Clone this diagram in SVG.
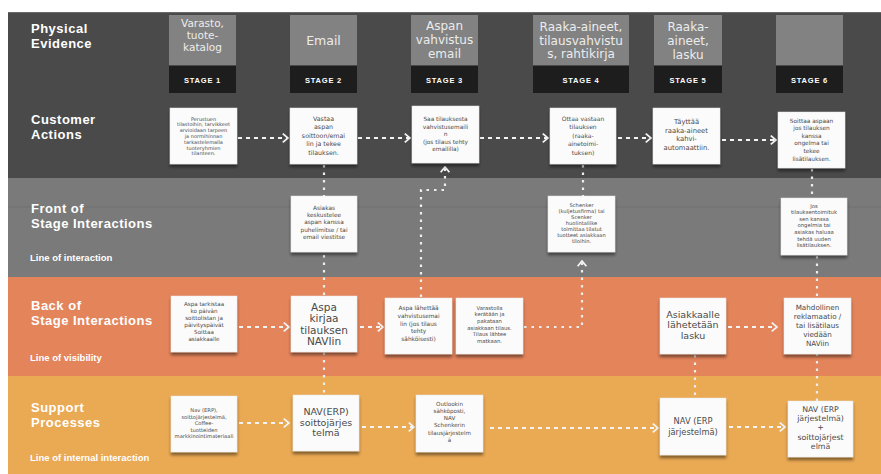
<svg xmlns="http://www.w3.org/2000/svg" width="881" height="474" viewBox="0 0 881 474">
<style>
.lbl{font-family:"Liberation Sans",Arial,sans-serif;font-weight:bold;font-size:13px;letter-spacing:0.5px;fill:#ffffff}
.sub{font-family:"Liberation Sans",Arial,sans-serif;font-weight:bold;font-size:9.5px;fill:#ffffff}
.ev{fill:#828282}
.evt{font-family:"DejaVu Sans",sans-serif;fill:#ececec;text-anchor:middle}
.stg{fill:#1d1d1d}
.stgt{font-family:"Liberation Sans",Arial,sans-serif;font-weight:bold;font-size:7.5px;letter-spacing:0.8px;fill:#ffffff;text-anchor:middle}
.note{fill:#fbfbfb;stroke:#e6e6e6;stroke-width:0.5;filter:url(#sh)}
.nt{font-family:"DejaVu Sans",sans-serif;fill:#4a4a4a;text-anchor:middle}
.dash{fill:none;stroke:#f4f4f4;stroke-width:2;stroke-dasharray:4 4;marker-end:url(#chev)}
.dot{fill:none;stroke:#eeeeee;stroke-width:2.2;stroke-dasharray:2.5 5}
.dotA{fill:none;stroke:#eeeeee;stroke-width:2.2;stroke-dasharray:2.5 5;marker-end:url(#chev)}
</style>
<defs>
<filter id="sh" x="-20%" y="-20%" width="140%" height="150%">
<feDropShadow dx="0" dy="3" stdDeviation="1.6" flood-color="#000" flood-opacity="0.45"/>
</filter>
<marker id="chev" viewBox="0 0 8 12" refX="7" refY="6" markerWidth="7" markerHeight="11" markerUnits="userSpaceOnUse" orient="auto">
<path d="M1,1 L7,6 L1,11" fill="none" stroke="#f4f4f4" stroke-width="2"/>
</marker>
</defs>
<rect x="0" y="0" width="881" height="474" fill="#ffffff"/>
<g id="lanes">
<rect x="8" y="12" width="873" height="166" fill="#4a4a4a"/>
<line x1="8" y1="12.5" x2="881" y2="12.5" stroke="#6a6a6a" stroke-width="1"/>
<rect x="8" y="178" width="873" height="99" fill="#7a7a7a"/>
<line x1="8" y1="207" x2="881" y2="207" stroke="#717171" stroke-width="1"/>
<rect x="8" y="277" width="873" height="99" fill="#e3845b"/>
<rect x="8" y="376" width="873" height="98" fill="#eaa953"/>
<text class="lbl" x="31" y="32.5">Physical</text>
<text class="lbl" x="31" y="47.5">Evidence</text>
<text class="lbl" x="31" y="123.5">Customer</text>
<text class="lbl" x="31" y="138.5">Actions</text>
<text class="lbl" x="31" y="212.5">Front of</text>
<text class="lbl" x="31" y="227.5">Stage Interactions</text>
<text class="sub" x="30" y="261">Line of interaction</text>
<text class="lbl" x="31" y="309.5">Back of</text>
<text class="lbl" x="31" y="324.5">Stage Interactions</text>
<text class="sub" x="30" y="361">Line of visibility</text>
<text class="lbl" x="31" y="411.5">Support</text>
<text class="lbl" x="31" y="426.5">Processes</text>
<text class="sub" x="30" y="461">Line of internal interaction</text>
</g>
<g id="stage1">
<rect class="ev" x="169" y="15" width="67" height="50"/>
<text class="evt" font-size="10.5"><tspan x="202.5" y="27">Varasto,</tspan><tspan x="202.5" y="39">tuote-</tspan><tspan x="202.5" y="51">katalog</tspan></text>
<rect class="stg" x="169" y="66" width="67" height="27"/>
<text class="stgt" x="202.5" y="82.5">STAGE 1</text>
</g>
<g id="stage2">
<rect class="ev" x="290" y="15" width="67" height="50"/>
<text class="evt" font-size="12.5" x="323.5" y="44.5">Email</text>
<rect class="stg" x="290" y="66" width="67" height="27"/>
<text class="stgt" x="323.5" y="82.5">STAGE 2</text>
</g>
<g id="stage3">
<rect class="ev" x="411" y="15" width="67" height="50"/>
<text class="evt" font-size="12"><tspan x="444.5" y="29.5">Aspan</tspan><tspan x="444.5" y="43.5">vahvistus</tspan><tspan x="444.5" y="57.5">email</tspan></text>
<rect class="stg" x="411" y="66" width="67" height="27"/>
<text class="stgt" x="444.5" y="82.5">STAGE 3</text>
</g>
<g id="stage4">
<rect class="ev" x="533" y="15" width="96" height="50"/>
<text class="evt" font-size="12"><tspan x="581" y="30.5">Raaka-aineet,</tspan><tspan x="581" y="45">tilausvahvistu</tspan><tspan x="581" y="57.5">s, rahtikirja</tspan></text>
<rect class="stg" x="533" y="66" width="96" height="27"/>
<text class="stgt" x="581" y="82.5">STAGE 4</text>
</g>
<g id="stage5">
<rect class="ev" x="654" y="15" width="68" height="50"/>
<text class="evt" font-size="12"><tspan x="688" y="30.5">Raaka-</tspan><tspan x="688" y="45">aineet,</tspan><tspan x="688" y="58.5">lasku</tspan></text>
<rect class="stg" x="654" y="66" width="68" height="27"/>
<text class="stgt" x="688" y="82.5">STAGE 5</text>
</g>
<g id="stage6">
<rect class="ev" x="776" y="15" width="67" height="50"/>
<rect class="stg" x="776" y="66" width="67" height="27"/>
<text class="stgt" x="809.5" y="82.5">STAGE 6</text>
</g>
<g id="connectors">
<path class="dash" d="M238,138 H288"/>
<path class="dash" d="M358,138 H410"/>
<path class="dash" d="M480,138 H548"/>
<path class="dash" d="M618,138 H651"/>
<path class="dash" d="M722,140 H776"/>
<path class="dash" d="M239,327 H289"/>
<path class="dash" d="M360,327 H383"/>
<path class="dash" d="M728,327 H777"/>
<path class="dash" d="M239,423 H289"/>
<path class="dash" d="M362,427 H414"/>
<path class="dash" d="M490,428 H658"/>
<path class="dash" d="M729,427 H785"/>
<path class="dot" d="M324,165 V396"/>
<path class="dotA" d="M421,297 V190 H445 V167"/>
<path class="dot" d="M583,165 V196"/>
<path class="dotA" d="M524,327 H582 V261"/>
<path class="dot" d="M812,169 V198"/>
<path class="dot" d="M817,256 V401"/>
<path class="dot" d="M695,355 V398"/>
</g>
<g id="ca1">
<rect class="note" x="170" y="108" width="67" height="56"/>
<text class="nt" font-size="5"><tspan x="203.5" y="120.5">Perustuen</tspan><tspan x="203.5" y="126.3">tilastoihin, tarvikkeet</tspan><tspan x="203.5" y="132.1">arvioidaan tarpeen</tspan><tspan x="203.5" y="137.9">ja normihinnan</tspan><tspan x="203.5" y="143.7">tarkastelemalla</tspan><tspan x="203.5" y="149.5">tuoteryhmien</tspan><tspan x="203.5" y="155.3">tilanteen.</tspan></text>
</g>
<g id="ca2">
<rect class="note" x="290" y="108" width="67" height="56"/>
<text class="nt" font-size="6.3"><tspan x="323.5" y="120.5">Vastaa</tspan><tspan x="323.5" y="129">aspan</tspan><tspan x="323.5" y="137.5">soittoon/emai</tspan><tspan x="323.5" y="146">lin ja tekee</tspan><tspan x="323.5" y="154.5">tilauksen.</tspan></text>
</g>
<g id="ca3">
<rect class="note" x="412" y="106" width="67" height="57"/>
<text class="nt" font-size="5.8"><tspan x="445.5" y="121">Saa tilauksesta</tspan><tspan x="445.5" y="128.5">vahvistusemaili</tspan><tspan x="445.5" y="136">n</tspan><tspan x="445.5" y="143.5">(jos tilaus tehty</tspan><tspan x="445.5" y="151">emaililla)</tspan></text>
</g>
<g id="ca4">
<rect class="note" x="550" y="108" width="66" height="56"/>
<text class="nt" font-size="6"><tspan x="583" y="120.5">Ottaa vastaan</tspan><tspan x="583" y="129">tilauksen</tspan><tspan x="583" y="137.5">(raaka-</tspan><tspan x="583" y="146">ainetoimi-</tspan><tspan x="583" y="154.5">tuksen)</tspan></text>
</g>
<g id="ca5">
<rect class="note" x="653" y="108" width="67" height="56"/>
<text class="nt" font-size="6.8"><tspan x="686.5" y="124">Täyttää</tspan><tspan x="686.5" y="132.7">raaka-aineet</tspan><tspan x="686.5" y="141.4">kahvi-</tspan><tspan x="686.5" y="150.1">automaattiin.</tspan></text>
</g>
<g id="ca6">
<rect class="note" x="778" y="112" width="67" height="56"/>
<text class="nt" font-size="5.8"><tspan x="811.5" y="122.5">Soittaa aspaan</tspan><tspan x="811.5" y="130.1">jos tilauksen</tspan><tspan x="811.5" y="137.7">kanssa</tspan><tspan x="811.5" y="145.3">ongelma tai</tspan><tspan x="811.5" y="152.9">tekee</tspan><tspan x="811.5" y="160.5">lisätilauksen.</tspan></text>
</g>
<g id="fs1">
<rect class="note" x="291" y="196" width="66" height="56"/>
<text class="nt" font-size="5.8"><tspan x="324" y="210">Asiakas</tspan><tspan x="324" y="217.2">keskustelee</tspan><tspan x="324" y="224.4">aspan kanssa</tspan><tspan x="324" y="231.6">puhelimitse / tai</tspan><tspan x="324" y="238.8">email viestitse</tspan></text>
</g>
<g id="fs2">
<rect class="note" x="548" y="196" width="67" height="56"/>
<text class="nt" font-size="5.2"><tspan x="581.5" y="207">Schenker</tspan><tspan x="581.5" y="213">(kuljetusfirma) tai</tspan><tspan x="581.5" y="219">Scenker</tspan><tspan x="581.5" y="225">huolintaliike</tspan><tspan x="581.5" y="231">toimittaa tilatut</tspan><tspan x="581.5" y="237">tuotteet asiakkaan</tspan><tspan x="581.5" y="243">tiloihin.</tspan></text>
</g>
<g id="fs3">
<rect class="note" x="781" y="198" width="66" height="57"/>
<text class="nt" font-size="5.3"><tspan x="814" y="207.5">Jos</tspan><tspan x="814" y="214.1">tilauksentoimituk</tspan><tspan x="814" y="220.7">sen kanssa</tspan><tspan x="814" y="227.3">ongelmia tai</tspan><tspan x="814" y="233.9">asiakas haluaa</tspan><tspan x="814" y="240.5">tehdä uuden</tspan><tspan x="814" y="247.1">lisätilauksen.</tspan></text>
</g>
<g id="bs1">
<rect class="note" x="171" y="296" width="66" height="56"/>
<text class="nt" font-size="5.6"><tspan x="204" y="305.5">Aspa tarkistaa</tspan><tspan x="204" y="312.5">ko päivän</tspan><tspan x="204" y="319.5">soittolistan ja</tspan><tspan x="204" y="326.5">päivityspäivät</tspan><tspan x="204" y="333.5">Soittaa</tspan><tspan x="204" y="340.5">asiakkaalle</tspan></text>
</g>
<g id="bs2">
<rect class="note" x="291" y="296" width="66" height="56"/>
<text class="nt" font-size="10.5"><tspan x="324" y="310.5">Aspa</tspan><tspan x="324" y="322.1">kirjaa</tspan><tspan x="324" y="333.7">tilauksen</tspan><tspan x="324" y="345.3">NAVIin</tspan></text>
</g>
<g id="bs3">
<rect class="note" x="385" y="298" width="67" height="56"/>
<text class="nt" font-size="5.8"><tspan x="418.5" y="310">Aspa lähettää</tspan><tspan x="418.5" y="317.8">vahvistusemai</tspan><tspan x="418.5" y="325.6">lin (jos tilaus</tspan><tspan x="418.5" y="333.4">tehty</tspan><tspan x="418.5" y="341.2">sähköisesti)</tspan></text>
</g>
<g id="bs4">
<rect class="note" x="456" y="298" width="67" height="56"/>
<text class="nt" font-size="5.3"><tspan x="489.5" y="309.5">Varastolla</tspan><tspan x="489.5" y="316.2">kerätään ja</tspan><tspan x="489.5" y="322.9">pakataan</tspan><tspan x="489.5" y="329.6">asiakkaan tilaus.</tspan><tspan x="489.5" y="336.3">Tilaus lähtee</tspan><tspan x="489.5" y="343">matkaan.</tspan></text>
</g>
<g id="bs5">
<rect class="note" x="660" y="298" width="66" height="56"/>
<text class="nt" font-size="9.5"><tspan x="693" y="317.5">Asiakkaalle</tspan><tspan x="693" y="328">lähetetään</tspan><tspan x="693" y="338.5">lasku</tspan></text>
</g>
<g id="bs6">
<rect class="note" x="784" y="298" width="67" height="56"/>
<text class="nt" font-size="7.2"><tspan x="817.5" y="310">Mahdollinen</tspan><tspan x="817.5" y="319">reklamaatio /</tspan><tspan x="817.5" y="328">tai lisätilaus</tspan><tspan x="817.5" y="337">viedään</tspan><tspan x="817.5" y="346">NAViin</tspan></text>
</g>
<g id="sp1">
<rect class="note" x="171" y="396" width="66" height="56"/>
<text class="nt" font-size="5.2"><tspan x="204" y="412">Nav (ERP),</tspan><tspan x="204" y="418.6">soittojärjestelmä,</tspan><tspan x="204" y="425.2">Coffee-</tspan><tspan x="204" y="431.8">tuotteiden</tspan><tspan x="204" y="438.4">markkinointimateriaali</tspan></text>
</g>
<g id="sp2">
<rect class="note" x="293" y="395" width="66" height="56"/>
<text class="nt" font-size="9.5"><tspan x="326" y="415">NAV(ERP)</tspan><tspan x="326" y="425.5">soittojärjes</tspan><tspan x="326" y="436">telmä</tspan></text>
</g>
<g id="sp3">
<rect class="note" x="416" y="395" width="67" height="57"/>
<text class="nt" font-size="5.6"><tspan x="449.5" y="405.5">Outlookin</tspan><tspan x="449.5" y="412.8">sähköposti,</tspan><tspan x="449.5" y="420.1">NAV</tspan><tspan x="449.5" y="427.4">Schenkerin</tspan><tspan x="449.5" y="434.7">tilausjärjestelm</tspan><tspan x="449.5" y="442">ä</tspan></text>
</g>
<g id="sp4">
<rect class="note" x="660" y="398" width="66" height="57"/>
<text class="nt" font-size="8.3"><tspan x="693" y="424">NAV (ERP</tspan><tspan x="693" y="434.5">järjestelmä)</tspan></text>
</g>
<g id="sp5">
<rect class="note" x="788" y="401" width="65" height="56"/>
<text class="nt" font-size="7.8"><tspan x="820.5" y="412">NAV (ERP</tspan><tspan x="820.5" y="421.2">järjestelmä)</tspan><tspan x="820.5" y="430.4">+</tspan><tspan x="820.5" y="439.6">soittojärjest</tspan><tspan x="820.5" y="448.8">elmä</tspan></text>
</g>
</svg>
